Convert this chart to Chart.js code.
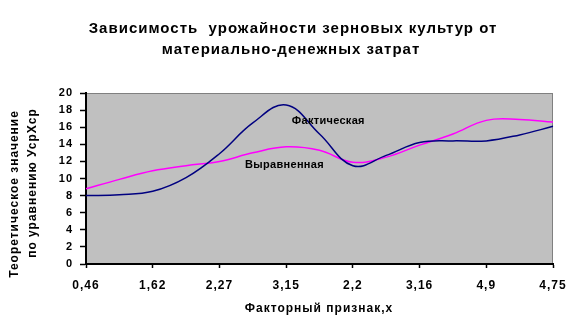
<!DOCTYPE html>
<html>
<head>
<meta charset="utf-8">
<script src="https://cdn.jsdelivr.net/npm/chart.js@4"></script>
<style>
  html, body { margin: 0; padding: 0; background: #fff; }
  #wrap { width: 583px; height: 336px; }
</style>
</head>
<body>
<div id="wrap"><canvas id="grafico" width="583" height="336"></canvas></div>
<script>
// категории (подписаны только чётные, как в исходнике)
const categories = ['0,46', '', '1,62', '', '2,27', '', '3,15', '', '2,2', '', '3,16', '', '4,9', '', '4,75'];
const actual = [8.0, 8.1, 8.5, 10.1, 12.9, 16.5, 18.6, 15.2, 11.5, 12.7, 14.2, 14.4, 14.4, 15.1, 16.1];
const smoothed = [8.8, 9.9, 10.9, 11.5, 12.0, 13.0, 13.7, 13.3, 11.9, 12.5, 13.9, 15.2, 16.8, 16.9, 16.6];
const seriesNames = ['Фактическая', 'Выравненная'];
const titleLines = ['Зависимость  урожайности зерновых культур от', 'материально-денежных затрат'];
const yTitleLines = ['Теоретическое значение', 'по уравнению УсрХср'];
const xTitle = 'Факторный признак,x';

const FONT = '"Liberation Sans", Arial, sans-serif';

// фон области построения + подписи
const decor = {
	id: 'decor',
	beforeUpdate(chart) {
		// шрифт в оригинале разреженный, поэтому немного разрядки
		chart.ctx.letterSpacing = '1px';
	},
	beforeDraw(chart) {
		const { ctx, chartArea: a } = chart;
		ctx.letterSpacing = '1px';
		ctx.save();
		ctx.fillStyle = '#c0c0c0';
		ctx.fillRect(a.left, a.top, a.right - a.left, a.bottom - a.top);
		ctx.strokeStyle = '#808080';
		ctx.lineWidth = 1;
		ctx.strokeRect(a.left + 0.5, a.top + 0.5, a.right - a.left - 1, a.bottom - a.top);
		ctx.restore();
	},
	afterDraw(chart) {
		const { ctx } = chart;
		const xs = chart.scales.x, ys = chart.scales.y;
		ctx.save();
		ctx.fillStyle = '#000';
		ctx.textBaseline = 'middle';
		ctx.textAlign = 'center';
		ctx.letterSpacing = '1px';
		ctx.font = 'bold 15px ' + FONT;
		ctx.fillText(titleLines[0], 293, 29);
		ctx.fillText(titleLines[1], 291, 50);

		ctx.font = 'bold 12px ' + FONT;
		ctx.fillText(xTitle, 319, 309);

		ctx.save();
		ctx.translate(15, 194);
		ctx.rotate(-Math.PI / 2);
		ctx.fillText(yTitleLines[0], 0, 0);
		ctx.restore();
		ctx.save();
		ctx.translate(33, 183);
		ctx.rotate(-Math.PI / 2);
		ctx.fillText(yTitleLines[1], 0, 0);
		ctx.restore();

		// подписи рядов у линий
		ctx.textAlign = 'left';
		ctx.letterSpacing = '0.3px';
		ctx.font = 'bold 11px ' + FONT;
		ctx.fillText(seriesNames[0], xs.getPixelForValue(6.17), ys.getPixelForValue(16.7));
		ctx.fillText(seriesNames[1], xs.getPixelForValue(4.77), ys.getPixelForValue(11.6));
		ctx.restore();
	}
};

const grafico = document.getElementById('grafico').getContext('2d');
const myChart = new Chart(grafico, {
	type: 'line',
	data: {
		labels: categories,
		datasets: [{
			label: seriesNames[0],
			data: actual,
			borderColor: '#000080',
			borderWidth: 1.5,
			pointRadius: 0,
			tension: 0.4
		}, {
			label: seriesNames[1],
			data: smoothed,
			borderColor: '#ff00ff',
			borderWidth: 1.5,
			pointRadius: 0,
			tension: 0.4
		}]
	},
	options: {
		responsive: false,
		animation: false,
		layout: { padding: { top: 93, right: 30, left: 0, bottom: 0 } },
		plugins: { legend: { display: false }, title: { display: false }, tooltip: { enabled: false } },
		scales: {
			x: {
				afterFit: (s) => { s.height = 72; },
				grid: {
					drawOnChartArea: false,
					tickLength: 4,
					tickColor: (c) => (c.index % 2 ? 'rgba(0,0,0,0)' : '#000'),
					tickWidth: 1.5
				},
				border: { color: '#000', width: 2 },
				ticks: {
					autoSkip: false,
					maxRotation: 0,
					padding: 10,
					color: '#000',
					font: { family: FONT, size: 12, weight: 'bold' }
				}
			},
			y: {
				min: 0,
				max: 20,
				afterFit: (s) => { s.width = 86; },
				grid: { drawOnChartArea: false, tickLength: 6, tickColor: '#000', tickWidth: 1.5 },
				border: { color: '#000', width: 2 },
				ticks: {
					stepSize: 2,
					padding: 7,
					color: '#000',
					font: { family: FONT, size: 11, weight: 'bold' }
				}
			}
		}
	},
	plugins: [decor]
});
</script>
</body>
</html>
